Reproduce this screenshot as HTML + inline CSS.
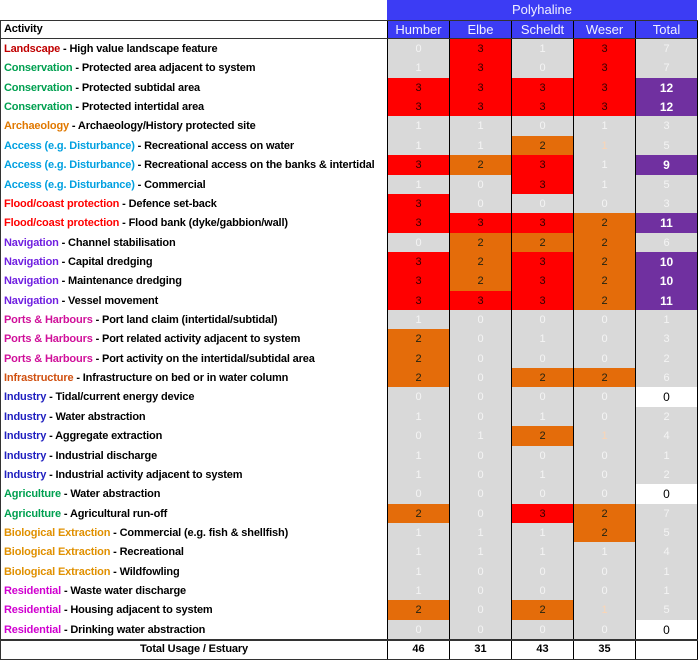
<!DOCTYPE html>
<html><head><meta charset="utf-8"><style>
*{box-sizing:border-box}
body{margin:0;width:698px;height:660px;background:#fff;overflow:hidden;font-family:"Liberation Sans",sans-serif}
#w{position:absolute;left:0;top:0;width:698px}
.top{height:20px;position:relative}
.poly{position:absolute;left:387px;top:0;width:310px;height:20px;background:#3c3cf4;color:#f0f0ff;font-size:13px;text-align:center;line-height:20px}
.r{display:flex;height:19.37px;line-height:20px}
.l{width:387px;padding-left:3px;border-left:1px solid #333;font-weight:bold;font-size:11px;letter-spacing:-0.15px;white-space:nowrap;overflow:hidden;color:#000}
.r i{font-style:normal;width:62px;border-left:1px solid #000;text-align:center;font-size:11px}
.r i:last-child{border-right:1px solid #000;width:63px}
.h{border-top:1px solid #333;border-bottom:1px solid #333;height:19px;line-height:17px}
.h i{background:#3c3cf4;color:#f0f0ff;font-size:13px}
.g{background:#d9d9d9;color:#f4f4f4}
.q{background:#d9d9d9;color:#fbd5b5}
.R{background:#ff0000;color:#300}
.o{background:#e46c0a;color:#221}
.p{background:#7030a0;color:#fff;font-weight:bold;font-size:12px!important}
.W{background:#fff;color:#000;font-size:12px!important}
.tot{border-top:2px solid #333;border-bottom:1px solid #333;height:20.5px;line-height:17px}
.tot .l{text-align:center;padding-left:0}
.tot i{font-weight:bold}
.c1{color:#c00000}.c2{color:#00a050}.c3{color:#e07800}.c4{color:#00a0e0}.c5{color:#ff0000}.c6{color:#7020e0}.c7{color:#d0109a}.c8{color:#d05010}.c9{color:#2020c0}.c10{color:#e09000}.c11{color:#d000d0}
</style></head><body><div id="w">
<div class="top"><div class="poly">Polyhaline</div></div>
<div class="r h"><div class="l">Activity</div><i>Humber</i><i>Elbe</i><i>Scheldt</i><i>Weser</i><i>Total</i></div>
<div class="r"><div class="l"><span class="c1">Landscape</span> - High value landscape feature</div><i class="g">0</i><i class="R">3</i><i class="g">1</i><i class="R">3</i><i class="g">7</i></div>
<div class="r"><div class="l"><span class="c2">Conservation</span> - Protected area adjacent to system</div><i class="g">1</i><i class="R">3</i><i class="g">0</i><i class="R">3</i><i class="g">7</i></div>
<div class="r"><div class="l"><span class="c2">Conservation</span> - Protected subtidal area</div><i class="R">3</i><i class="R">3</i><i class="R">3</i><i class="R">3</i><i class="p">12</i></div>
<div class="r"><div class="l"><span class="c2">Conservation</span> - Protected intertidal area</div><i class="R">3</i><i class="R">3</i><i class="R">3</i><i class="R">3</i><i class="p">12</i></div>
<div class="r"><div class="l"><span class="c3">Archaeology</span> - Archaeology/History protected site</div><i class="g">1</i><i class="g">1</i><i class="g">0</i><i class="g">1</i><i class="g">3</i></div>
<div class="r"><div class="l"><span class="c4">Access (e.g. Disturbance)</span> - Recreational access on water</div><i class="g">1</i><i class="g">1</i><i class="o">2</i><i class="q">1</i><i class="g">5</i></div>
<div class="r"><div class="l"><span class="c4">Access (e.g. Disturbance)</span> - Recreational access on the banks &amp; intertidal</div><i class="R">3</i><i class="o">2</i><i class="R">3</i><i class="g">1</i><i class="p">9</i></div>
<div class="r"><div class="l"><span class="c4">Access (e.g. Disturbance)</span> - Commercial</div><i class="g">1</i><i class="g">0</i><i class="R">3</i><i class="g">1</i><i class="g">5</i></div>
<div class="r"><div class="l"><span class="c5">Flood/coast protection</span> - Defence set-back</div><i class="R">3</i><i class="g">0</i><i class="g">0</i><i class="g">0</i><i class="g">3</i></div>
<div class="r"><div class="l"><span class="c5">Flood/coast protection</span> - Flood bank (dyke/gabbion/wall)</div><i class="R">3</i><i class="R">3</i><i class="R">3</i><i class="o">2</i><i class="p">11</i></div>
<div class="r"><div class="l"><span class="c6">Navigation</span> - Channel stabilisation</div><i class="g">0</i><i class="o">2</i><i class="o">2</i><i class="o">2</i><i class="g">6</i></div>
<div class="r"><div class="l"><span class="c6">Navigation</span> - Capital dredging</div><i class="R">3</i><i class="o">2</i><i class="R">3</i><i class="o">2</i><i class="p">10</i></div>
<div class="r"><div class="l"><span class="c6">Navigation</span> - Maintenance dredging</div><i class="R">3</i><i class="o">2</i><i class="R">3</i><i class="o">2</i><i class="p">10</i></div>
<div class="r"><div class="l"><span class="c6">Navigation</span> - Vessel movement</div><i class="R">3</i><i class="R">3</i><i class="R">3</i><i class="o">2</i><i class="p">11</i></div>
<div class="r"><div class="l"><span class="c7">Ports &amp; Harbours</span> - Port land claim (intertidal/subtidal)</div><i class="g">1</i><i class="g">0</i><i class="g">0</i><i class="g">0</i><i class="g">1</i></div>
<div class="r"><div class="l"><span class="c7">Ports &amp; Harbours</span> - Port related activity adjacent to system</div><i class="o">2</i><i class="g">0</i><i class="g">1</i><i class="g">0</i><i class="g">3</i></div>
<div class="r"><div class="l"><span class="c7">Ports &amp; Harbours</span> - Port activity on the intertidal/subtidal area</div><i class="o">2</i><i class="g">0</i><i class="g">0</i><i class="g">0</i><i class="g">2</i></div>
<div class="r"><div class="l"><span class="c8">Infrastructure</span> - Infrastructure on bed or in water column</div><i class="o">2</i><i class="g">0</i><i class="o">2</i><i class="o">2</i><i class="g">6</i></div>
<div class="r"><div class="l"><span class="c9">Industry</span> - Tidal/current energy device</div><i class="g">0</i><i class="g">0</i><i class="g">0</i><i class="g">0</i><i class="W">0</i></div>
<div class="r"><div class="l"><span class="c9">Industry</span> - Water abstraction</div><i class="g">1</i><i class="g">0</i><i class="g">1</i><i class="g">0</i><i class="g">2</i></div>
<div class="r"><div class="l"><span class="c9">Industry</span> - Aggregate extraction</div><i class="g">0</i><i class="g">1</i><i class="o">2</i><i class="q">1</i><i class="g">4</i></div>
<div class="r"><div class="l"><span class="c9">Industry</span> - Industrial discharge</div><i class="g">1</i><i class="g">0</i><i class="g">0</i><i class="g">0</i><i class="g">1</i></div>
<div class="r"><div class="l"><span class="c9">Industry</span> - Industrial activity adjacent to system</div><i class="g">1</i><i class="g">0</i><i class="g">1</i><i class="g">0</i><i class="g">2</i></div>
<div class="r"><div class="l"><span class="c2">Agriculture</span> - Water abstraction</div><i class="g">0</i><i class="g">0</i><i class="g">0</i><i class="g">0</i><i class="W">0</i></div>
<div class="r"><div class="l"><span class="c2">Agriculture</span> - Agricultural run-off</div><i class="o">2</i><i class="g">0</i><i class="R">3</i><i class="o">2</i><i class="g">7</i></div>
<div class="r"><div class="l"><span class="c10">Biological Extraction</span> - Commercial (e.g. fish &amp; shellfish)</div><i class="g">1</i><i class="g">1</i><i class="g">1</i><i class="o">2</i><i class="g">5</i></div>
<div class="r"><div class="l"><span class="c10">Biological Extraction</span> - Recreational</div><i class="g">1</i><i class="g">1</i><i class="g">1</i><i class="g">1</i><i class="g">4</i></div>
<div class="r"><div class="l"><span class="c10">Biological Extraction</span> - Wildfowling</div><i class="g">1</i><i class="g">0</i><i class="g">0</i><i class="g">0</i><i class="g">1</i></div>
<div class="r"><div class="l"><span class="c11">Residential</span> - Waste water discharge</div><i class="g">1</i><i class="g">0</i><i class="g">0</i><i class="g">0</i><i class="g">1</i></div>
<div class="r"><div class="l"><span class="c11">Residential</span> - Housing adjacent to system</div><i class="o">2</i><i class="g">0</i><i class="o">2</i><i class="q">1</i><i class="g">5</i></div>
<div class="r"><div class="l"><span class="c11">Residential</span> - Drinking water abstraction</div><i class="g">0</i><i class="g">0</i><i class="g">0</i><i class="g">0</i><i class="W">0</i></div>
<div class="r tot"><div class="l">Total Usage / Estuary</div><i>46</i><i>31</i><i>43</i><i>35</i><i></i></div>
</div></body></html>
